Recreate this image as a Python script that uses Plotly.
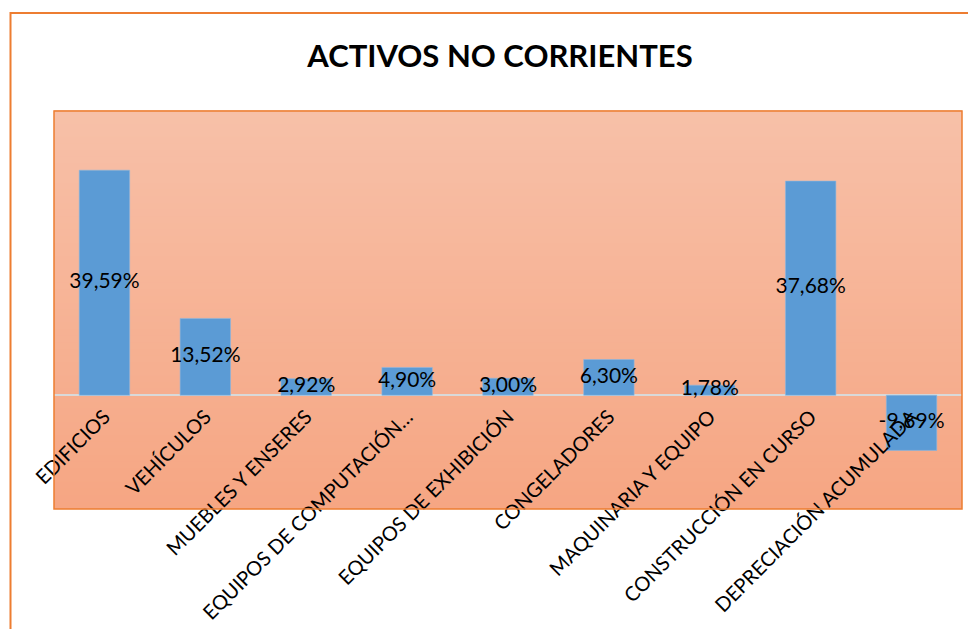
import plotly.graph_objects as go

categories = ["EDIFICIOS", "VEHÍCULOS", "MUEBLES Y ENSERES", "EQUIPOS DE COMPUTACIÓN…",
              "EQUIPOS DE EXHIBICIÓN", "CONGELADORES", "MAQUINARIA Y EQUIPO",
              "CONSTRUCCIÓN EN CURSO", "DEPRECIACIÓN ACUMULADA"]
values = [39.59, 13.52, 2.92, 4.90, 3.00, 6.30, 1.78, 37.68, -9.69]
y_range = [-20, 50]

OFF = 8  # page body margin
W, H = 960, 621
ml, mr, mt, mb = 54 - OFF, 6, 111 - OFF, 120
pw, ph = W - ml - mr, H - mt - mb

labels = [f"{v:.2f}".replace(".", ",") + "%" for v in values]

fig = go.Figure()
fig.add_trace(go.Bar(
    x=categories, y=values, width=0.5,
    marker=dict(color="#5B9BD5", line=dict(color="#8FB8E0", width=0.6)),
    hoverinfo="skip",
))
fig.add_trace(go.Scatter(
    x=categories, y=[v / 2 for v in values], mode="text", text=labels,
    textfont=dict(family="Lato", size=21, color="#000000"),
    hoverinfo="skip",
))

# gradient background strips
top = (247, 192, 168)
bot = (246, 166, 131)
N = 60
shapes = []
for i in range(N):
    t = i / (N - 1)
    c = tuple(round(top[k] + (bot[k] - top[k]) * t) for k in range(3))
    shapes.append(dict(type="rect", xref="paper", yref="paper",
                       x0=0, x1=1, y0=1 - (i + 1) / N, y1=1 - i / N + 0.002,
                       fillcolor=f"rgb{c}", line=dict(width=0), layer="below"))
# plot area border
shapes.append(dict(type="rect", xref="paper", yref="paper", x0=0, x1=1, y0=0, y1=1,
                   line=dict(color="#ED7D31", width=1.5), layer="above"))
# outer chart border
ox0 = (10.5 - OFF - ml) / pw
oy1 = (H - mb - (13 - OFF)) / ph
shapes.append(dict(type="rect", xref="paper", yref="paper", x0=ox0, x1=1.2, y0=-0.6, y1=oy1,
                   line=dict(color="#ED7D31", width=2), layer="above"))

fig.update_layout(
    width=W, height=H,
    margin=dict(l=ml, r=mr, t=mt, b=mb),
    paper_bgcolor="white", plot_bgcolor="rgba(0,0,0,0)",
    showlegend=False,
    shapes=shapes,
    title=dict(text="<b>ACTIVOS NO CORRIENTES</b>", x=(500 - OFF) / W, xref="container",
               xanchor="center", y=1 - (56 - OFF) / H, yref="container", yanchor="middle",
               font=dict(family="Lato", size=31, color="#000000")),
    xaxis=dict(anchor="free", position=(0 - y_range[0]) / (y_range[1] - y_range[0]),
               tickangle=-45, showline=False, ticks="", showgrid=False,
               ticklabelstandoff=5,
               tickfont=dict(family="Lato", size=20, color="#000000"),
               range=[-0.5, len(categories) - 0.5], automargin=False),
    yaxis=dict(range=y_range, showticklabels=False, showgrid=False, ticks="",
               zeroline=True, zerolinecolor="#D9D9D9", zerolinewidth=2,
               domain=[0, 1], automargin=False),
)

fig.write_html("out.html")
